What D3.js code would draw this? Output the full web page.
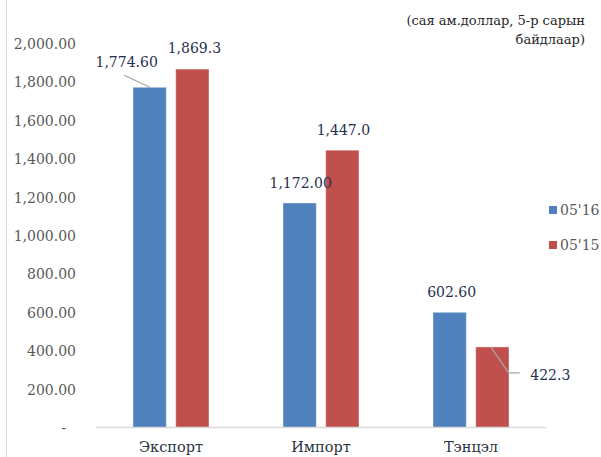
<!DOCTYPE html>
<html>
<head>
<meta charset="utf-8">
<script src="https://cdn.jsdelivr.net/npm/d3@7"></script>
<style>
  body { margin: 0; background: #fff; }
</style>
</head>
<body>
<svg id="chart" width="601" height="457"></svg>
<script>
const categories = ["Экспорт", "Импорт", "Тэнцэл"];
const seriesNames = ["05'16", "05'15"];
const values2016 = [1774.60, 1172.00, 602.60];
const values2015 = [1869.3, 1447.0, 422.3];
const labels2016 = ["1,774.60", "1,172.00", "602.60"];
const labels2015 = ["1,869.3", "1,447.0", "422.3"];
const yTicks = [0, 200, 400, 600, 800, 1000, 1200, 1400, 1600, 1800, 2000];
const colors = ["#4F81BD", "#C0504D"];

const svg = d3.select("#chart");
const margin = {top: 44, right: 55, bottom: 29, left: 96};
const width = 601, height = 457;
const font = "DejaVu Serif";

const x = d3.scaleBand()
    .domain(categories)
    .range([margin.left, width - margin.right]);
const x1 = d3.scaleBand()
    .domain([0, 1])
    .range([37, 150 - 37])
    .paddingInner(0.22);
const y = d3.scaleLinear()
    .domain([0, 2000])
    .range([height - margin.bottom, margin.top]);

// frame line on the left
svg.append("line")
    .attr("x1", 6.5).attr("x2", 6.5)
    .attr("y1", 0).attr("y2", height)
    .attr("stroke", "#d9d9d9");

// y axis labels
const yAxis = d3.axisLeft(y)
    .tickValues(yTicks)
    .tickSize(0)
    .tickFormat(d => d === 0 ? "-" : d3.format(",.2f")(d));
svg.append("g")
    .attr("transform", "translate(76,0)")
    .call(yAxis)
    .attr("font-family", font)
    .call(g => g.select(".domain").remove())
    .selectAll("text")
    .attr("x", 0)
    .attr("dx", d => d === 0 ? -10 : 0)
    .style("font-size", "14px")
    .style("fill", "#595959");

// bars
const data = categories.map((c, i) => ({cat: c, vals: [values2016[i], values2015[i]]}));
const groups = svg.append("g").selectAll("g")
    .data(data).join("g")
    .attr("transform", d => `translate(${x(d.cat)},0)`);
groups.selectAll("rect")
    .data(d => d.vals.map((v, j) => ({v, j})))
    .join("rect")
    .attr("x", d => x1(d.j))
    .attr("width", x1.bandwidth())
    .attr("y", d => y(d.v))
    .attr("height", d => y(0) - y(d.v))
    .attr("fill", d => colors[d.j])
    .attr("stroke", "#ffffff")
    .attr("stroke-opacity", 0.4)
    .attr("stroke-width", 1);

// x axis
svg.append("line")
    .attr("x1", margin.left).attr("x2", width - margin.right)
    .attr("y1", y(0) - 0.5).attr("y2", y(0) - 0.5)
    .attr("stroke", "#d9d9d9").attr("stroke-width", 1.3);
svg.append("g").selectAll("text")
    .data(categories).join("text")
    .attr("x", d => x(d) + x.bandwidth() / 2)
    .attr("y", 452)
    .attr("text-anchor", "middle")
    .attr("font-family", font)
    .style("font-size", "14.5px")
    .style("fill", "#2a3340")
    .text(d => d);

// data labels
const labelColor = "#1F2F4F";
const lbl = [
  {i: 0, j: 0, text: labels2016[0], dx: -23, dy: -20},
  {i: 0, j: 1, text: labels2015[0], dx: 2, dy: -16},
  {i: 1, j: 0, text: labels2016[1], dx: 1, dy: -15},
  {i: 1, j: 1, text: labels2015[1], dx: 1, dy: -15},
  {i: 2, j: 0, text: labels2016[2], dx: 2, dy: -15},
  {i: 2, j: 1, text: labels2015[2], dx: 58, dy: 33}
];
const vals = [values2016, values2015];
svg.append("g").selectAll("text")
    .data(lbl).join("text")
    .attr("x", d => x(categories[d.i]) + x1(d.j) + x1.bandwidth() / 2 + d.dx)
    .attr("y", d => y(vals[d.j][d.i]) + d.dy)
    .attr("text-anchor", "middle")
    .attr("font-family", font)
    .style("font-size", "14px")
    .style("fill", labelColor)
    .text(d => d.text);

// leader lines
const bx = (i, j) => x(categories[i]) + x1(j);
svg.append("line")
    .attr("x1", bx(0, 0) - 9).attr("y1", y(values2016[0]) - 12)
    .attr("x2", bx(0, 0) + 17).attr("y2", y(values2016[0]))
    .attr("stroke", "#a6a6a6").attr("stroke-width", 1.3);
svg.append("path")
    .attr("d", `M${bx(2, 1) + 15},${y(values2015[2])} L${bx(2, 1) + 33},${y(values2015[2]) + 26} L${bx(2, 1) + 44},${y(values2015[2]) + 26}`)
    .attr("fill", "none")
    .attr("stroke", "#a6a6a6").attr("stroke-width", 1.3);

// legend
const legend = svg.append("g").selectAll("g")
    .data(seriesNames).join("g")
    .attr("transform", (d, i) => `translate(549,${206 + i * 35})`);
legend.append("rect")
    .attr("width", 8).attr("height", 8)
    .attr("fill", (d, i) => colors[i]);
legend.append("text")
    .attr("x", 11).attr("y", 9)
    .attr("font-family", font)
    .style("font-size", "14px")
    .style("fill", "#595959")
    .text(d => d);

// unit note
const note = svg.append("text")
    .attr("text-anchor", "end")
    .attr("font-family", font)
    .style("font-size", "13px")
    .style("fill", "#262626");
note.append("tspan").attr("x", 585).attr("y", 25).text("(сая ам.доллар, 5-р сарын");
note.append("tspan").attr("x", 585).attr("y", 44).text("байдлаар)");
</script>
</body>
</html>
